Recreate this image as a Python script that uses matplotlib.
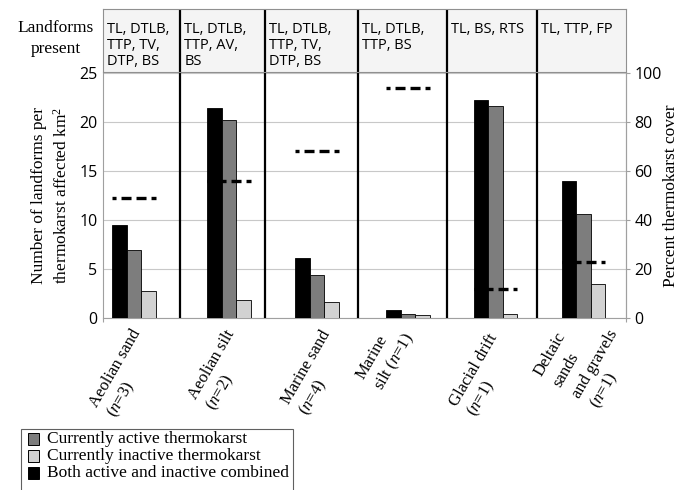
import matplotlib
matplotlib.use('Agg')
import matplotlib.pyplot as plt
from matplotlib.patches import Rectangle
from matplotlib.transforms import offset_copy
import numpy as np

plt.rcParams['mathtext.fontset'] = 'custom'
plt.rcParams['mathtext.rm'] = 'Liberation Serif'
plt.rcParams['mathtext.it'] = 'Liberation Serif:italic'
plt.rcParams['lines.scale_dashes'] = False

SERIF = 'Liberation Serif'
SANS = 'Open Sans'

# landforms per thermokarst-affected km2, by surficial material
materials = ['Aeolian sand\n(' + '$n$' + '=3)',
             'Aeolian silt\n(' + '$n$' + '=2)',
             'Marine sand\n(' + '$n$' + '=4)',
             'Marine\nsilt (' + '$n$' + '=1)',
             'Glacial drift\n(' + '$n$' + '=1)',
             'Deltaic\nsands\nand gravels\n(' + '$n$' + '=1)']
combined = [9.5, 21.4, 6.1, 0.8, 22.2, 14.0]
active = [6.9, 20.2, 4.4, 0.45, 21.6, 10.6]
inactive = [2.8, 1.8, 1.6, 0.35, 0.45, 3.5]
# percent thermokarst cover (right axis)
cover = [49, 56, 68, 94, 12, 23]
landforms = ['TL, DTLB,\nTTP, TV,\nDTP, BS',
             'TL, DTLB,\nTTP, AV,\nBS',
             'TL, DTLB,\nTTP, TV,\nDTP, BS',
             'TL, DTLB,\nTTP, BS',
             'TL, BS, RTS',
             'TL, TTP, FP']

# column layout (x in column units, 0..6)
edges = [0, 0.883, 1.858, 2.925, 3.946, 4.979, 6.0]
centers = np.array([0.356, 1.445, 2.455, 3.499, 4.503, 5.512])
# start of each category label's first baseline (x units, axes fraction)
label_pos = [(-0.07, -0.367), (1.067, -0.335), (2.134, -0.355),
             (2.994, -0.253), (4.061, -0.363), (5.036, -0.241)]
w = 0.166

c_comb, c_act, c_inact = '#000000', '#7d7d7d', '#d2d2d2'

fig = plt.figure(figsize=(6.88, 4.9), dpi=100)
ax = fig.add_axes([103 / 688, 1 - 318 / 490, 523 / 688, 245 / 490])
hd = fig.add_axes([103 / 688, 1 - 72 / 490, 523 / 688, 63 / 490])

ax.bar(centers - w, combined, w, color=c_comb, edgecolor='black', lw=0.6, zorder=3)
ax.bar(centers, active, w, color=c_act, edgecolor='black', lw=0.6, zorder=3)
ax.bar(centers + w, inactive, w, color=c_inact, edgecolor='black', lw=0.6, zorder=3)
ax.set_xlim(0, 6)
ax.set_ylim(0, 25)
ax.set_yticks([0, 5, 10, 15, 20, 25])
ax.yaxis.grid(True, color='#c8c8c8', lw=0.8, zorder=0)
ax.set_xticks([0, 6])
ax.set_xticklabels([])
ax.tick_params(axis='x', length=3, color='#a0a0a0')
ax.spines['top'].set_visible(False)
for s in ['left', 'bottom', 'right']:
    ax.spines[s].set_color('#a0a0a0')
    ax.spines[s].set_linewidth(0.8)
ax.tick_params(axis='y', length=0, pad=4, labelsize=11.5)
for t in ax.get_yticklabels():
    t.set_fontfamily(SANS)
ax.set_ylabel('Number of landforms per\nthermokarst affected km$^2$',
              fontfamily=SERIF, fontsize=12.5, labelpad=6, linespacing=1.45)

for e in edges[1:-1]:
    ax.axvline(e, color='black', lw=1.6, zorder=4)

ax2 = ax.twinx()
ax2.set_ylim(0, 100)
ax2.set_yticks([0, 20, 40, 60, 80, 100])
ax2.tick_params(axis='y', length=3, color='#a0a0a0', pad=3, labelsize=11.5)
for t in ax2.get_yticklabels():
    t.set_fontfamily(SANS)
for s in ['top', 'left', 'bottom']:
    ax2.spines[s].set_visible(False)
ax2.spines['right'].set_color('#a0a0a0')
ax2.spines['right'].set_linewidth(0.8)
ax2.set_ylabel('Percent thermokarst cover', fontfamily=SERIF, fontsize=12.5, labelpad=1)
ax2.hlines(cover, centers - 1.5 * w, centers + 1.5 * w, colors='black',
           linewidth=2.4, linestyles=[(4.3, (7.2, 3.6))], zorder=5)

# category labels, slanted at 60 degrees; each line placed on its own
ang = np.deg2rad(60)
step = 21.5
for (x, y), lab in zip(label_pos, materials):
    for k, line in enumerate(lab.split('\n')):
        tr = offset_copy(ax.get_xaxis_transform(), fig=fig, units='dots',
                         x=k * step * np.sin(ang), y=-k * step * np.cos(ang))
        ax.text(x, y, line, transform=tr, rotation=60, rotation_mode='anchor',
                ha='left', va='baseline', fontfamily=SERIF, fontsize=12)

# header row listing landforms present in each material
hd.set_xlim(0, 6)
hd.set_ylim(0, 1)
hd.set_facecolor('#f4f4f4')
hd.set_xticks([])
hd.set_yticks([])
for s in hd.spines.values():
    s.set_color('#909090')
    s.set_linewidth(0.8)
for e in edges[1:-1]:
    hd.axvline(e, color='black', lw=1.6)
for e, txt in zip(edges[:-1], landforms):
    hd.text(e + 0.05, 0.79, txt, ha='left', va='top', fontfamily=SANS,
            fontsize=10.5, linespacing=1.1)

fig.text(56 / 688, 1 - 38.5 / 490, 'Landforms\npresent', ha='center', va='center',
         multialignment='center', fontfamily=SERIF, fontsize=12.5, linespacing=1.45)

# legend box, running off the bottom edge
fig.patches.append(Rectangle((21 / 688, -0.05), 272 / 688, 1 - 429 / 490 + 0.05,
                             transform=fig.transFigure, fill=False,
                             edgecolor='#606060', lw=0.8))
legend_items = [(c_act, 'Currently active thermokarst'),
                (c_inact, 'Currently inactive thermokarst'),
                (c_comb, 'Both active and inactive combined')]
for i, (col, txt) in enumerate(legend_items):
    yc = 439 + 17 * i
    fig.patches.append(Rectangle((28 / 688, 1 - (yc + 6) / 490), 11 / 688, 12 / 490,
                                 transform=fig.transFigure, facecolor=col,
                                 edgecolor='black', lw=0.7))
    fig.text(47 / 688, 1 - yc / 490, txt, ha='left', va='center',
             fontfamily=SERIF, fontsize=12.5)

fig.savefig('out.png', dpi=100)
